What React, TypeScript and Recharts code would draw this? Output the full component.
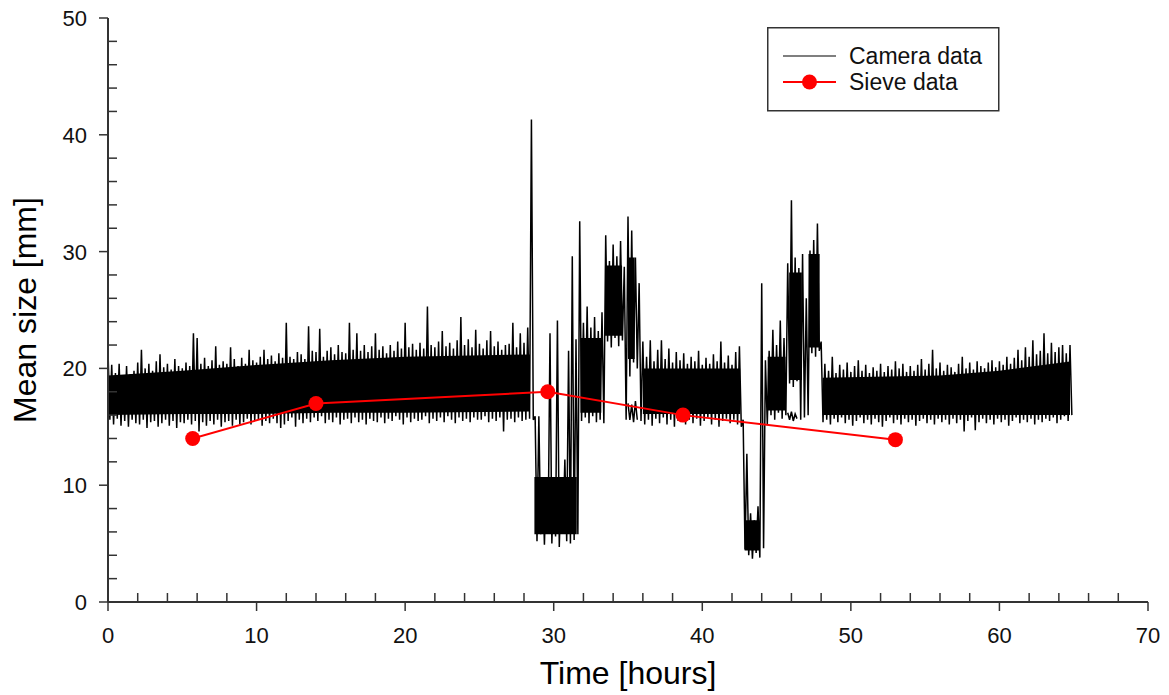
import { ComposedChart, Area, Line, Scatter, XAxis, YAxis, Legend } from 'recharts';

const FONT = '"Liberation Sans", Arial, sans-serif';
const AXIS = '#333';

// camera trace: per quarter hour, the high sample then the low sample
const camStep = 0.25;
const camHi = [
  21.5, 20.3, 19.6, 20.4,
  19.4, 20.2, 19.5, 19.8,
  20.5, 21.6, 20.0, 20.4,
  19.8, 20.6, 21.2, 20.1,
  20.4, 19.9, 20.8, 20.2,
  20.0, 20.5, 20.2, 23.0,
  22.6, 20.4, 20.9, 20.2,
  20.7, 21.9, 20.3, 20.6,
  20.4, 21.8, 20.8, 20.2,
  20.9, 20.4, 21.6, 20.7,
  20.5, 21.0, 21.6, 20.8,
  21.1, 20.6, 21.3, 20.9,
  23.9, 21.0, 20.8, 21.4,
  21.2, 20.8, 23.6, 21.5,
  21.4, 23.4, 21.0, 21.5,
  21.8, 21.2, 22.0, 21.4,
  21.3, 23.9, 21.6, 23.0,
  21.5, 22.0, 21.4, 21.9,
  23.0, 21.6, 21.9, 21.3,
  22.0, 21.5, 22.3, 21.7,
  23.9, 21.8, 22.1, 21.6,
  22.2, 21.7, 25.3, 22.0,
  21.8, 22.3, 23.2, 21.9,
  22.2, 21.7, 22.4, 24.4,
  22.0, 22.5, 21.8, 23.3,
  22.1, 21.7, 22.4, 23.2,
  21.9, 22.3, 21.6, 22.0,
  22.1, 23.9, 21.8, 23.0,
  22.2, 23.5, 41.3, 15.9,
  15.9, 10.7, 10.7, 23.0,
  10.7, 24.1, 10.7, 12.2,
  21.5, 29.6, 22.5, 32.6,
  23.9, 25.3, 23.5, 24.4,
  23.2, 24.8, 31.4, 29.2,
  30.6, 29.6, 30.9, 28.7,
  33.0, 31.8, 29.5, 27.3,
  22.3, 21.0, 22.4, 20.6,
  21.6, 22.4, 20.8, 21.7,
  20.5, 21.4, 20.7, 21.3,
  20.4, 21.0, 20.6, 21.5,
  20.3, 20.9, 20.4, 21.2,
  20.6, 22.3, 20.5, 21.1,
  20.3, 21.4, 21.9, 15.6,
  12.7, 7.6, 7.0, 8.2,
  27.3, 20.7, 21.5, 23.3,
  22.0, 24.1, 22.6, 29.0,
  34.4, 29.5, 28.6, 29.8,
  26.0, 30.1, 31.0, 32.4,
  22.3, 20.4, 19.8, 21.0,
  19.6, 20.3, 19.9, 20.5,
  19.7, 20.2, 20.7, 19.8,
  20.3, 19.6, 20.1, 19.8,
  20.4, 19.7, 20.2, 19.9,
  20.6, 20.0, 20.4, 19.7,
  20.2, 19.8, 20.3, 20.8,
  19.9, 20.4, 21.6, 20.0,
  20.5, 19.8, 20.3, 20.1,
  19.7, 20.4, 21.0, 20.0,
  20.5, 19.9, 20.6, 20.2,
  20.0, 20.5, 20.7, 20.1,
  20.6, 20.3, 21.0, 20.4,
  20.9, 21.6, 20.7, 21.8,
  21.0, 22.4, 21.2, 21.5,
  23.0, 21.3, 22.2, 21.4,
  21.8, 22.0, 21.3, 22.0,
];
const camLo = [
  15.6, 15.2, 15.7, 15.1,
  15.5, 15.0, 15.6, 15.3,
  15.2, 15.6, 14.9, 15.4,
  15.5, 15.0, 15.3, 15.6,
  15.1, 15.5, 14.9, 15.4,
  15.3, 15.6, 15.2, 15.5,
  14.6, 15.4, 15.1, 15.5,
  15.2, 15.6, 15.0, 15.4,
  15.5, 15.1, 15.6, 15.2,
  15.4, 15.7, 15.2, 15.5,
  15.6, 15.1, 15.5, 15.3,
  15.7, 15.3, 14.9, 15.2,
  15.5, 15.8, 15.0, 15.6,
  15.3, 15.7, 15.4, 15.8,
  15.5, 15.9, 15.3, 15.6,
  15.4, 15.8, 15.2, 15.6,
  15.7, 15.3, 15.8, 15.4,
  15.6, 15.2, 15.7, 15.5,
  15.4, 15.8, 15.3, 15.7,
  15.5, 15.9, 15.6, 15.2,
  15.8, 15.4, 15.7, 15.5,
  15.6, 15.9, 15.3, 15.7,
  15.5, 15.8, 15.4, 15.9,
  15.6, 15.3, 15.8, 15.5,
  15.7, 15.4, 15.8, 15.6,
  15.6, 15.9, 15.4, 15.7,
  15.5, 15.8, 14.6, 15.6,
  15.7, 15.4, 15.8, 15.5,
  15.6, 15.7, 15.6, 5.2,
  5.8, 4.9, 6.2, 5.0,
  5.6, 4.7, 6.0, 5.2,
  5.0, 5.3, 5.8, 15.5,
  15.8, 15.3, 15.9, 15.4,
  15.6, 15.3, 22.3, 21.8,
  22.6, 21.9, 22.4, 15.6,
  19.3, 20.5, 20.0, 15.5,
  15.2, 15.6, 15.1, 15.7,
  15.3, 15.8, 15.2, 15.6,
  15.0, 15.5, 15.8, 15.2,
  15.6, 15.3, 15.7, 15.1,
  15.5, 15.8, 15.2, 15.6,
  15.0, 15.5, 15.7, 15.3,
  15.6, 15.2, 15.0, 4.5,
  4.0, 3.7, 4.2, 3.8,
  4.6, 15.2, 16.0, 15.6,
  16.2, 15.7, 16.0, 18.7,
  18.4, 18.9, 15.6, 15.8,
  16.0, 21.3, 21.0, 21.5,
  15.4, 15.6, 15.2, 15.7,
  15.4, 15.8, 15.3, 15.6,
  15.1, 15.5, 15.8, 15.3,
  15.6, 15.2, 15.7, 15.4,
  15.0, 15.5, 15.8, 15.3,
  15.6, 15.2, 15.7, 15.4,
  15.6, 15.1, 15.5, 15.7,
  15.3, 15.6, 15.2, 15.7,
  15.4, 15.6, 15.2, 15.7,
  15.3, 15.6, 14.6, 15.5,
  15.8, 14.7, 15.4, 15.7,
  15.3, 15.6, 15.2, 15.7,
  15.4, 15.6, 15.1, 15.5,
  15.8, 15.3, 15.6, 15.4,
  15.7, 15.2, 15.6, 15.4,
  15.7, 15.5, 15.8, 15.3,
  15.6, 15.9, 15.5, 16.0,
];

// solid core of the trace (where the samples overlap), null = gap
const coreTime = [0, 5, 10, 15, 20, 28.4, 28.55, 28.7, 31.55, 31.65, 31.8, 33.2, 33.3, 33.45, 34.6, 34.8, 35.0, 35.45, 35.75, 36.0, 42.55, 42.7, 42.85, 43.85, 44.2, 44.4, 45.6, 45.75, 45.85, 46.7, 47.0, 47.15, 47.9, 48.0, 48.1, 56, 60, 64.75];
const coreTop = [19.4, 19.8, 20.3, 20.7, 21.0, 21.2, null, 10.7, 10.7, null, 22.6, 22.6, null, 28.8, 28.8, null, 29.5, 29.5, null, 20.0, 20.0, null, 7.0, 7.0, null, 21.0, 21.0, null, 28.2, 28.2, null, 29.8, 29.8, null, 19.2, 19.4, 19.8, 20.6];
const coreBottom = [16.0, 16.1, 16.1, 16.2, 16.2, 16.3, null, 5.8, 5.8, null, 16.2, 16.2, null, 22.8, 22.8, null, 20.8, 20.8, null, 16.1, 16.1, null, 4.4, 4.4, null, 16.4, 16.4, null, 19.0, 19.0, null, 21.8, 21.8, null, 16.0, 16.0, 16.0, 16.0];

// lower trace that splits off under the humps
const strandTime = [35.0, 35.25, 35.5, 45.75, 46.0, 46.25];
const strandLo = [15.6, 15.4, 15.6, 15.6, 15.5, 15.7];
const strandHi = [17.0, 16.9, 17.2, 16.2, 16.3, 16.1];

const sieveTime = [5.7, 14.0, 29.6, 38.7, 53.0];
const sieveSize = [14.0, 17.0, 18.0, 16.0, 13.9];

const xTicks = [0, 2, 4, 6, 8, 10, 12, 14, 16, 18, 20, 22, 24, 26, 28, 30, 32, 34, 36, 38, 40, 42, 44, 46, 48, 50, 52, 54, 56, 58, 60, 62, 64, 66, 68, 70];
const yTicks = [0, 2, 4, 6, 8, 10, 12, 14, 16, 18, 20, 22, 24, 26, 28, 30, 32, 34, 36, 38, 40, 42, 44, 46, 48, 50];

const camRows = camHi.flatMap((hi, i) => {
  const t = i * camStep;
  const k = strandTime.indexOf(t);
  return [
    { t, cam: hi, strand: k >= 0 ? strandHi[k] : null },
    { t: t + camStep / 2, cam: camLo[i], strand: k >= 0 ? strandLo[k] : null },
  ];
});
const coreRows = coreTime.map((t, i) => ({
  t,
  core: coreTop[i] == null ? null : [coreBottom[i], coreTop[i]],
}));
const sieveRows = sieveTime.map((t, i) => ({ t, v: sieveSize[i] }));

function XTick({ x, y, payload }: any) {
  const major = payload.value % 10 === 0;
  return (
    <g>
      <line x1={x} x2={x} y1={y} y2={major ? y + 9 : y - 9} stroke={AXIS} strokeWidth={1.5} />
      {major && (
        <text x={x} y={y + 41} textAnchor="middle" fontSize={22} fontFamily={FONT} fill="#111">
          {payload.value}
        </text>
      )}
    </g>
  );
}

function YTick({ x, y, payload }: any) {
  const major = payload.value % 10 === 0;
  return (
    <g>
      <line x1={major ? x - 9 : x} x2={major ? x : x + 9} y1={y} y2={y} stroke={AXIS} strokeWidth={1.5} />
      {major && (
        <text x={x - 21} y={y + 8} textAnchor="end" fontSize={22} fontFamily={FONT} fill="#111">
          {payload.value}
        </text>
      )}
    </g>
  );
}

function LegendBox() {
  return (
    <svg width={233} height={85} style={{ display: 'block' }}>
      <rect x={0.75} y={0.75} width={231} height={83} fill="#fff" stroke={AXIS} strokeWidth={1.5} />
      <line x1={16} x2={69} y1={29} y2={29} stroke="#000" strokeWidth={1.2} />
      <text x={82} y={37} fontSize={23} fontFamily={FONT} fill="#111">Camera data</text>
      <line x1={16} x2={69} y1={55} y2={55} stroke="#ff0000" strokeWidth={2} />
      <circle cx={42.5} cy={55} r={7.5} fill="#ff0000" />
      <text x={82} y={63} fontSize={23} fontFamily={FONT} fill="#111">Sieve data</text>
    </svg>
  );
}

export default function App() {
  return (
    <div style={{ position: 'absolute', left: 0, top: 0, background: '#fff' }}>
      <ComposedChart width={1169} height={695} data={camRows} margin={{ top: 18, right: 21, bottom: 0, left: 0 }}>
        <XAxis
          type="number"
          dataKey="t"
          domain={[0, 70]}
          ticks={xTicks}
          interval={0}
          height={93}
          tickSize={0}
          tickMargin={0}
          tickLine={false}
          tick={<XTick />}
          axisLine={{ stroke: AXIS, strokeWidth: 2 }}
          label={{ value: 'Time [hours]', position: 'insideBottom', offset: 11, fontSize: 32, fill: '#000', fontFamily: FONT }}
        />
        <YAxis
          type="number"
          domain={[0, 50]}
          ticks={yTicks}
          interval={0}
          width={108}
          tickSize={0}
          tickMargin={0}
          tickLine={false}
          tick={<YTick />}
          axisLine={{ stroke: AXIS, strokeWidth: 2 }}
          label={{ value: 'Mean size [mm]', position: 'center', angle: -90, dx: -29, fontSize: 32, fill: '#000', fontFamily: FONT }}
        />
        <Area
          data={coreRows}
          type="linear"
          dataKey="core"
          stroke="none"
          fill="#000"
          fillOpacity={1}
          dot={false}
          activeDot={false}
          connectNulls={false}
          isAnimationActive={false}
        />
        <Line
          type="linear"
          dataKey="cam"
          stroke="#000"
          strokeWidth={1.5}
          dot={false}
          activeDot={false}
          isAnimationActive={false}
        />
        <Line
          type="linear"
          dataKey="strand"
          stroke="#000"
          strokeWidth={1.5}
          dot={false}
          activeDot={false}
          connectNulls={false}
          isAnimationActive={false}
        />
        <Scatter
          data={sieveRows}
          dataKey="v"
          fill="#ff0000"
          line={{ stroke: '#ff0000', strokeWidth: 2 }}
          shape={(p: any) => <circle cx={p.cx} cy={p.cy} r={7.5} fill="#ff0000" />}
          isAnimationActive={false}
        />
        <Legend
          layout="horizontal"
          verticalAlign="middle"
          align="center"
          content={<LegendBox />}
          wrapperStyle={{ left: 767, top: 27, width: 233, height: 85 }}
        />
      </ComposedChart>
    </div>
  );
}
